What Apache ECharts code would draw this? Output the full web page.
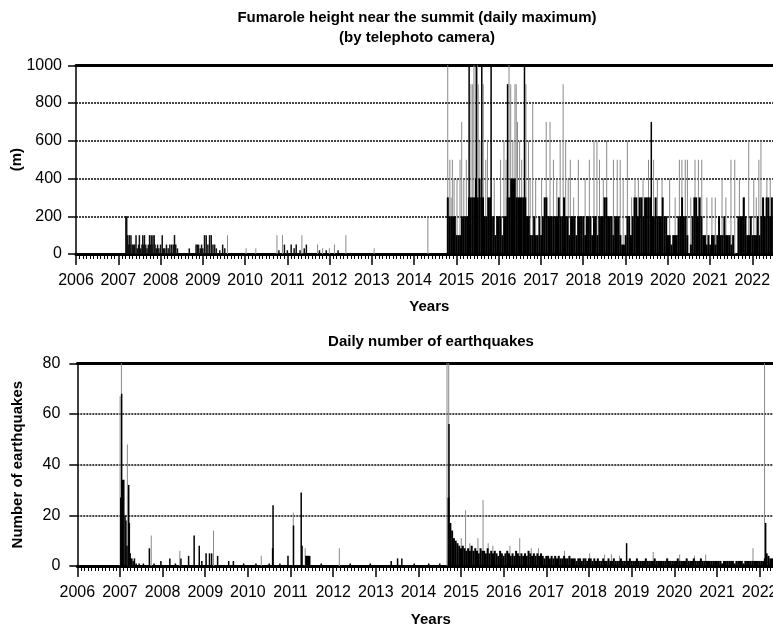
<!DOCTYPE html>
<html><head><meta charset="utf-8">
<script src="https://cdn.jsdelivr.net/npm/echarts@6/dist/echarts.min.js"></script>
<style>html,body{margin:0;padding:0;background:#fff;overflow:hidden}#c{width:773px;height:626px}</style>
</head><body><div id="c"></div>
<script>
// ---------- Fumarole height (m), daily maximum ----------
const fumYAxisMax = 1000;
const fumBaseStart = 2014.79;          // first value of the dense series (decimal year)
const fumBaseStep = 1 / 24;            // half-month sampling
const fumBase = [300,200,200,200,200,100,100,100,200,200,
 200,200,300,300,300,300,400,300,400,300,
 300,200,200,300,300,200,200,100,200,200,
 200,100,200,200,300,300,400,400,400,300,
 300,300,300,300,300,200,200,100,100,200,
 100,100,200,100,200,300,300,200,200,200,
 200,200,200,300,200,200,300,200,200,100,
 200,200,200,100,200,200,200,200,100,200,
 200,200,100,200,200,100,200,200,200,300,
 300,200,200,200,100,200,200,200,100,50,
 50,100,200,200,100,200,300,300,200,300,
 300,200,300,300,300,300,200,200,300,200,
 200,200,300,200,200,100,100,50,100,100,
 100,200,200,300,200,200,100,0,50,200,
 300,300,200,300,200,100,100,50,100,50,
 100,100,50,100,200,100,100,200,100,100,
 100,50,100,0,0,200,200,200,300,200,
 100,100,200,100,100,100,200,100,200,300,
 200,300,300,200,300,200];
const fumSpikesBlack = [[2015.30,1000],[2015.47,1000],[2015.60,1000],[2015.82,1000],[2016.21,900],[2016.61,1000],[2019.61,700]];
const fumSpikesGray = [[2009.59,100],[2010.03,30],[2010.26,30],[2010.76,100],[2010.89,100],[2011.35,100],[2011.72,50],[2011.84,30],[2012.00,30],[2012.12,50],[2012.39,100],[2013.06,30],[2014.33,200],
 [2014.80,1000],[2014.85,500],[2014.88,300],[2014.91,500],[2014.95,400],[2015.02,400],[2015.09,500],[2015.13,700],[2015.18,400],[2015.24,500],[2015.35,900],[2015.39,900],[2015.42,1000],[2015.50,1000],[2015.52,900],[2015.56,600],[2015.64,900],[2015.70,500],[2015.74,600],[2015.90,400],[2016.05,500],[2016.13,600],[2016.18,500],[2016.25,1000],[2016.29,900],[2016.34,600],[2016.39,900],[2016.42,900],[2016.45,700],[2016.50,600],[2016.55,500],[2016.65,900],[2016.71,600],[2016.75,400],[2016.81,800],[2016.88,400],[2017.02,400],[2017.13,700],[2017.22,700],[2017.30,500],[2017.38,400],[2017.46,600],[2017.53,900],[2017.59,600],[2017.65,400],[2017.70,500],[2017.78,300],[2017.89,500],[2018.05,400],[2018.15,500],[2018.26,600],[2018.33,600],[2018.39,500],[2018.48,400],[2018.56,600],[2018.72,500],[2018.81,500],[2018.88,500],[2018.95,400],[2019.05,600],[2019.15,300],[2019.23,400],[2019.31,400],[2019.42,400],[2019.55,500],[2019.67,500],[2019.76,400],[2019.87,400],[2020.05,400],[2020.18,300],[2020.28,500],[2020.34,500],[2020.42,500],[2020.47,500],[2020.55,300],[2020.65,500],[2020.73,500],[2020.81,500],[2020.93,300],[2021.05,300],[2021.13,300],[2021.29,400],[2021.38,300],[2021.50,500],[2021.59,500],[2021.70,400],[2021.82,300],[2021.92,600],[2022.04,400],[2022.10,300],[2022.16,500],[2022.21,600],[2022.35,400],[2022.43,400]];
const fumEarly = [[2007.18,200],[2007.20,200],[2007.22,100],[2007.24,50],[2007.26,100],[2007.28,50],[2007.30,100],[2007.33,50],[2007.36,50],[2007.39,50],[2007.42,100],[2007.45,30],[2007.48,50],[2007.50,100],[2007.53,30],[2007.56,50],[2007.58,100],[2007.60,50],[2007.62,100],[2007.65,50],[2007.68,30],[2007.71,50],[2007.74,100],[2007.76,50],[2007.78,100],[2007.80,50],[2007.82,100],[2007.85,100],[2007.87,50],[2007.90,30],[2007.93,50],[2007.96,30],[2008.00,50],[2008.04,100],[2008.07,30],[2008.10,30],[2008.14,50],[2008.18,30],[2008.22,50],[2008.26,50],[2008.30,50],[2008.33,100],[2008.36,50],[2008.40,30],[2008.68,30],[2008.84,50],[2008.87,50],[2008.90,50],[2008.94,30],[2008.97,50],[2009.00,30],[2009.04,100],[2009.08,100],[2009.12,50],[2009.16,100],[2009.20,100],[2009.24,50],[2009.28,50],[2009.32,30],[2009.40,20],[2009.47,50],[2009.52,30],[2010.80,20],[2010.93,50],[2011.00,20],[2011.09,50],[2011.16,30],[2011.21,50],[2011.30,20],[2011.40,30],[2011.45,50],[2011.76,20],[2011.92,20],[2012.20,20]];

// ---------- Daily number of earthquakes ----------
const eqYAxisMax = 80;
const eqBaseStart = 2014.70;
const eqBaseStep = 1 / 24;
const eqBase = [27,17,14,11,10,9,8,7,8,7,
 6,7,6,8,6,7,6,5,7,6,
 6,5,7,5,6,5,6,5,4,6,
 5,4,5,6,5,4,5,4,6,5,
 4,5,4,5,4,6,5,4,5,4,
 5,4,5,4,3,4,4,3,4,3,
 4,3,4,3,3,4,3,3,4,3,
 3,3,2,3,3,2,3,3,2,3,
 3,2,3,2,3,2,2,3,2,2,
 3,2,2,3,2,2,2,3,2,2,
 2,2,3,2,2,2,3,2,2,2,
 2,3,2,2,2,2,3,2,2,2,
 2,2,2,3,2,2,2,2,2,3,
 2,2,2,2,3,2,2,2,3,2,
 2,2,3,2,2,2,2,2,2,2,
 2,2,2,2,1,2,2,2,2,2,
 2,1,2,2,2,2,1,2,2,2,
 2,2,2,2,2,2,2,2,3,5,
 4,3,3];
const eqSpikesBlack = [[2007.02,27],[2007.04,68],[2007.06,34],[2007.09,34],[2007.12,20],[2007.14,18],[2007.165,8],[2007.205,32],[2007.22,17],[2007.24,5],[2007.26,3],[2007.28,3],[2007.31,2],[2007.34,3],[2007.38,1],[2007.45,1],[2007.55,1],[2007.69,7],[2007.80,1],[2007.96,2],[2008.17,3],[2008.30,1],[2008.43,3],[2008.61,4],[2008.74,12],[2008.86,8],[2008.92,2],[2009.02,5],[2009.10,5],[2009.15,5],[2009.29,4],[2009.55,2],[2009.66,2],[2009.90,1],[2010.19,1],[2010.50,1],[2010.58,7],[2010.59,24],[2010.75,1],[2010.94,4],[2011.07,16],[2011.25,29],[2011.27,8],[2011.36,4],[2011.38,4],[2011.40,4],[2011.42,4],[2011.45,4],[2011.72,1],[2012.40,1],[2012.87,1],[2013.36,2],[2013.51,3],[2013.61,3],[2013.90,1],[2014.24,1],[2014.50,1],
 [2014.715,56],[2018.88,9],[2022.14,17]];
const eqSpikesGray = [[2007.01,67],[2007.04,85],[2007.18,48],[2007.74,12],[2008.41,6],[2009.20,14],[2010.32,4],[2011.07,21],[2011.35,7],[2012.15,7],
 [2014.675,85],[2014.715,85],[2015.01,11],[2015.11,22],[2015.21,9],[2015.40,11],[2015.52,26],[2015.64,9],[2015.75,8],[2016.15,8],[2016.38,11],[2016.65,7],[2016.82,7],[2017.43,6],[2018.02,5],[2018.37,4.5],[2018.53,4.5],[2018.72,4],[2019.51,5.5],[2020.13,4.5],[2020.48,4],[2020.74,4.5],[2021.85,7],[2022.12,85]];

// ---------- chart ----------
const FONT = '"Liberation Sans", Arial, Helvetica, sans-serif';
function pairs(start, step, arr) { return arr.map((v, i) => [Math.round((start + i * step) * 10000) / 10000, v]); }

const nameStyle = {fontWeight: 'bold', fontSize: 15, color: '#000', fontFamily: FONT};
function mainX(gridIndex, nameGap, padRight) {
  return {
    type: 'value', gridIndex: gridIndex, position: 'bottom', min: 2006, max: 2023, interval: 1,
    axisLine: {show: true, onZero: false, lineStyle: {color: '#000', width: 3}},
    axisTick: {show: true, length: 11, lineStyle: {color: '#000', width: 1.5}},
    minorTick: {show: true, splitNumber: 12, length: 5, lineStyle: {color: '#000', width: 1}},
    axisLabel: {color: '#000', fontSize: 16, fontFamily: FONT, margin: 19, formatter: v => String(Math.round(v))},
    splitLine: {show: false},
    name: 'Years', nameLocation: 'middle', nameGap: nameGap, nameMoveOverlap: false,
    nameTextStyle: Object.assign({padding: [0, padRight, 0, 0]}, nameStyle)
  };
}
function topX(gridIndex) {
  return {
    type: 'value', gridIndex: gridIndex, position: 'top', min: 2006, max: 2023,
    axisLine: {show: true, onZero: false, lineStyle: {color: '#000', width: 3}},
    axisTick: {show: false}, axisLabel: {show: false}, splitLine: {show: false}
  };
}
function mainY(gridIndex, max, interval, name, labelMargin, nameGap) {
  return {
    type: 'value', gridIndex: gridIndex, min: 0, max: max, interval: interval,
    axisLine: {show: true, lineStyle: {color: '#000', width: 1.5}},
    axisTick: {show: true, length: 8, lineStyle: {color: '#000', width: 1.5}},
    axisLabel: {color: '#000', fontSize: 16, fontFamily: FONT, margin: labelMargin, formatter: v => String(v)},
    splitLine: {show: true, lineStyle: {color: '#444', type: [2, 1], width: 2}},
    name: name, nameLocation: 'middle', nameRotate: 90, nameGap: nameGap, nameMoveOverlap: false, nameTextStyle: nameStyle
  };
}
function bars(xi, yi, data, width, color, z) {
  return {type: 'bar', xAxisIndex: xi, yAxisIndex: yi, data: data, barWidth: width, barGap: '-100%',
    itemStyle: {color: color}, z: z, silent: true, animation: false};
}

const chart = echarts.init(document.getElementById('c'), null, {renderer: 'canvas'});
chart.setOption({
  animation: false,
  backgroundColor: '#fff',
  textStyle: {fontFamily: FONT},
  title: [
    {text: 'Fumarole height near the summit (daily maximum)\n(by telephoto camera)', left: 417, top: 8, textAlign: 'center', padding: 0,
     textStyle: {fontSize: 15, fontWeight: 'bold', color: '#000', lineHeight: 20, fontFamily: FONT}},
    {text: 'Daily number of earthquakes', left: 431, top: 332, textAlign: 'center', padding: 0,
     textStyle: {fontSize: 15, fontWeight: 'bold', color: '#000', lineHeight: 20, fontFamily: FONT}}
  ],
  grid: [
    {left: 76, width: 718.6, top: 65.3, height: 188.7, containLabel: false, outerBoundsMode: 'none'},
    {left: 77.3, width: 725.0, top: 363.3, height: 202.7, containLabel: false, outerBoundsMode: 'none'}
  ],
  xAxis: [mainX(0, 45, 12), topX(0), mainX(1, 46.5, 18), topX(1)],
  yAxis: [mainY(0, fumYAxisMax, 200, '(m)', 14, 52), mainY(1, eqYAxisMax, 20, 'Number of earthquakes', 17, 52)],
  series: [
    bars(0, 0, fumSpikesGray, 1, '#8a8a8a', 2),
    bars(0, 0, fumEarly, 1.5, '#111', 3),
    bars(0, 0, pairs(fumBaseStart, fumBaseStep, fumBase), 2, '#000', 4),
    bars(0, 0, fumSpikesBlack, 1.5, '#000', 5),
    bars(2, 1, eqSpikesGray, 1, '#8a8a8a', 2),
    bars(2, 1, pairs(eqBaseStart, eqBaseStep, eqBase), 2, '#000', 4),
    bars(2, 1, eqSpikesBlack, 1.5, '#000', 5)
  ]
});
</script></body></html>
